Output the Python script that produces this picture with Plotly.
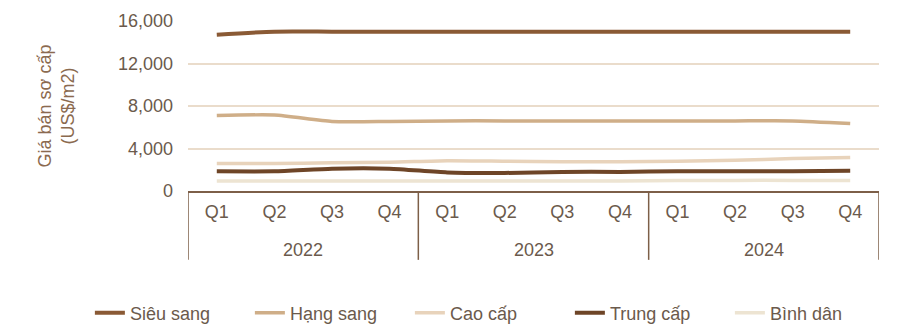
import plotly.graph_objects as go

years = ["2022", "2023", "2024"]
quarters = ["Q1", "Q2", "Q3", "Q4"]
categories = [f"{q} {y}" for y in years for q in quarters]
tick_labels = [q for y in years for q in quarters]

sieu_sang = [14700, 15000, 15000, 15000, 15000, 15000, 15000, 15000, 15000, 15000, 15000, 15000]
hang_sang = [7100, 7150, 6550, 6550, 6600, 6600, 6600, 6600, 6600, 6600, 6600, 6350]
cao_cap = [2600, 2600, 2650, 2700, 2850, 2800, 2750, 2750, 2800, 2900, 3050, 3150]
trung_cap = [1850, 1850, 2100, 2100, 1750, 1700, 1800, 1800, 1850, 1850, 1850, 1900]
binh_dan = [950, 950, 950, 950, 950, 950, 950, 950, 980, 1000, 1000, 1000]

series = [
    ("Siêu sang", sieu_sang, "#8a5a35", 4),
    ("Hạng sang", hang_sang, "#cfae88", 3.5),
    ("Cao cấp", cao_cap, "#e8d3bb", 3.5),
    ("Trung cấp", trung_cap, "#6e4527", 4),
    ("Bình dân", binh_dan, "#ede4d2", 3.5),
]

fig = go.Figure()
for name, vals, color, w in series:
    fig.add_trace(go.Scatter(
        x=categories, y=vals, name=name, mode="lines",
        line=dict(color=color, width=w, shape="spline", smoothing=0.6),
    ))

font_color = "#6b5a4c"
line_color = "#7d5f48"
n_q = len(quarters)

# group dividers (box around the category labels)
for i in range(len(years) + 1):
    fig.add_shape(type="line", xref="x", yref="paper",
                  x0=i * n_q - 0.5, x1=i * n_q - 0.5, y0=0, y1=-0.405,
                  line=dict(color=line_color, width=1.5))
# year labels
for i, y in enumerate(years):
    fig.add_annotation(x=i * n_q + (n_q - 1) / 2, y=-0.347, xref="x", yref="paper",
                       text=y, showarrow=False, yanchor="middle",
                       font=dict(size=18, color=font_color))

fig.update_layout(
    width=908, height=324,
    margin=dict(l=188, r=29, t=21, b=133, autoexpand=False),
    plot_bgcolor="white", paper_bgcolor="white",
    font=dict(family="Liberation Sans, Arial, sans-serif", size=18, color=font_color),
    showlegend=True,
    legend=dict(
        orientation="h", x=-0.142, xanchor="left", xref="paper",
        y=-0.718, yref="paper", yanchor="middle",
        font=dict(size=18, color=font_color),
        itemwidth=30, tracegroupgap=0,
        entrywidth=115, entrywidthmode="pixels",
    ),
    xaxis=dict(
        type="category", range=[-0.5, len(categories) - 0.5],
        tickvals=categories, ticktext=tick_labels,
        showline=True, linecolor=line_color, linewidth=1.5,
        tickfont=dict(size=18, color=font_color),
        showgrid=False, ticks="", ticklabelstandoff=4,
    ),
    yaxis=dict(
        range=[0, 16000], tickvals=[0, 4000, 8000, 12000, 16000],
        tickformat=",d", showgrid=True, gridcolor="#eadccb", gridwidth=1.5,
        zeroline=False, ticks="", ticklabelstandoff=14,
        tickfont=dict(size=18, color=font_color),
        title=dict(text="Giá bán sơ cấp<br>(US$/m2)", font=dict(size=18, color="#8b6a4f"), standoff=38),
    ),
)

fig.write_html("out.html")
